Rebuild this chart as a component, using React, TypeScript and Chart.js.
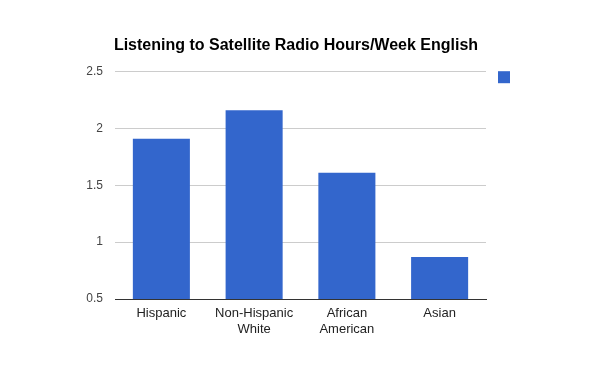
import React, { useEffect, useRef } from "react";
import { Chart, registerables } from "chart.js";

Chart.register(...registerables);

const categories: (string | string[])[] = [
  "Hispanic",
  ["Non-Hispanic", "White"],
  ["African", "American"],
  "Asian",
];
const hoursPerWeek = [1.91, 2.16, 1.61, 0.87];
const yTicks = [0.5, 1, 1.5, 2, 2.5];
const titleText = "Listening to Satellite Radio Hours/Week English";
const barColor = "#3366cc";

const legendSquare = {
  id: "legendSquare",
  afterLayout(chart: any) {
    const t = chart.titleBlock;
    if (t) {
      t.left = 0;
      t.right = 592;
      t.width = 592;
    }
  },
  afterDraw(chart: any) {
    const { ctx, chartArea } = chart;
    ctx.save();
    ctx.fillStyle = barColor;
    ctx.fillRect(chartArea.right + 12, chartArea.top - 0.5, 12, 12);
    ctx.restore();
  },
};

export default function App() {
  const ref = useRef<HTMLCanvasElement>(null);
  useEffect(() => {
    if (!ref.current) return;
    const chart = new Chart(ref.current, {
      type: "bar",
      data: {
        labels: categories,
        datasets: [
          {
            data: hoursPerWeek,
            backgroundColor: barColor,
            barPercentage: 0.615,
            categoryPercentage: 1,
          },
        ],
      },
      options: {
        responsive: false,
        animation: false,
        layout: { padding: { left: 0, right: 114, top: 0, bottom: 0 } },
        plugins: {
          legend: { display: false },
          tooltip: { enabled: false },
          title: {
            display: true,
            text: titleText,
            color: "#000",
            font: { family: "Arial, 'Liberation Sans'", size: 16, weight: "bold" },
            padding: { top: 35.5, bottom: 17 },
          },
        },
        scales: {
          x: {
            grid: { display: false, drawTicks: false },
            border: { display: true, color: "#333", width: 1 },
            ticks: {
              color: "#222",
              padding: 6,
              maxRotation: 0,
              autoSkip: false,
              font: { family: "Arial, 'Liberation Sans'", size: 13, lineHeight: 1.23 },
            },
            afterFit(scale: any) {
              scale.height = 72;
            },
          },
          y: {
            min: 0.5,
            max: 2.5,
            afterBuildTicks(scale: any) {
              scale.ticks = yTicks.map((v) => ({ value: v }));
            },
            grid: { color: "#cccccc", drawTicks: false },
            border: { display: false },
            ticks: {
              color: "#444",
              padding: 12,
              font: { family: "Arial, 'Liberation Sans'", size: 12 },
              callback: (v: any) => String(v),
            },
            afterFit(scale: any) {
              scale.width = 115;
            },
          },
        },
      },
      plugins: [legendSquare],
    });
    return () => chart.destroy();
  }, []);
  return (
    <div style={{ position: "fixed", left: 0, top: 0, width: 600, height: 371, background: "#fff" }}>
      <canvas ref={ref} width={600} height={371} />
    </div>
  );
}
